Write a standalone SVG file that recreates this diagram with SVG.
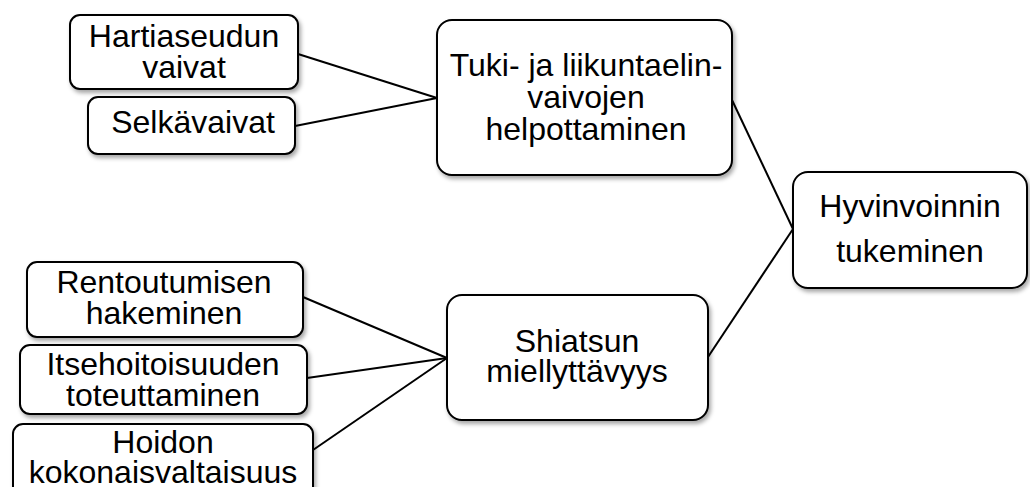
<svg xmlns="http://www.w3.org/2000/svg" width="1030" height="487" viewBox="0 0 1030 487">
<defs>
<filter id="sh" x="-10%" y="-10%" width="130%" height="130%">
<feDropShadow dx="2" dy="3" stdDeviation="2" flood-color="#000" flood-opacity="0.35"/>
</filter>
</defs>
<style>
.box{fill:#fff;stroke:#000;stroke-width:2;filter:url(#sh)}
.t{font-family:"Liberation Sans",Arial,sans-serif;font-size:32px;fill:#000;text-anchor:middle}
.ln{stroke:#000;stroke-width:2;fill:none}
</style>
<rect width="1030" height="487" fill="#fff"/>
<g id="connectors">
<line class="ln" x1="298" y1="54" x2="437" y2="98"/>
<line class="ln" x1="295" y1="126" x2="437" y2="98"/>
<line class="ln" x1="732" y1="100" x2="793" y2="229"/>
<line class="ln" x1="708" y1="357" x2="793" y2="229"/>
<line class="ln" x1="303" y1="297" x2="447" y2="358"/>
<line class="ln" x1="307" y1="378" x2="447" y2="358"/>
<line class="ln" x1="313" y1="450" x2="447" y2="358"/>
</g>
<g id="n-hartia">
<rect class="box" x="70" y="15" width="228" height="74" rx="10"/>
<text class="t" x="184" y="47">Hartiaseudun</text>
<text class="t" x="184" y="78">vaivat</text>
</g>
<g id="n-selka">
<rect class="box" x="88" y="97" width="207" height="57" rx="10"/>
<text class="t" x="193" y="133">Selkävaivat</text>
</g>
<g id="n-tuki">
<rect class="box" x="437" y="20" width="295" height="155" rx="15"/>
<text class="t" x="586" y="76">Tuki- ja liikuntaelin-</text>
<text class="t" x="586" y="108">vaivojen</text>
<text class="t" x="586" y="140">helpottaminen</text>
</g>
<g id="n-hyv">
<rect class="box" x="793" y="172" width="234" height="116" rx="15"/>
<text class="t" x="910" y="217">Hyvinvoinnin</text>
<text class="t" x="910" y="262">tukeminen</text>
</g>
<g id="n-rento">
<rect class="box" x="27" y="262" width="276" height="75" rx="10"/>
<text class="t" x="164" y="293">Rentoutumisen</text>
<text class="t" x="164" y="324">hakeminen</text>
</g>
<g id="n-itse">
<rect class="box" x="20" y="345" width="287" height="69" rx="10"/>
<text class="t" x="163" y="375">Itsehoitoisuuden</text>
<text class="t" x="163" y="406">toteuttaminen</text>
</g>
<g id="n-hoidon">
<rect class="box" x="13" y="424" width="300" height="76" rx="10"/>
<text class="t" x="163" y="453">Hoidon</text>
<text class="t" x="163" y="483">kokonaisvaltaisuus</text>
</g>
<g id="n-shiatsu">
<rect class="box" x="447" y="295" width="261" height="125" rx="15"/>
<text class="t" x="577" y="352">Shiatsun</text>
<text class="t" x="577" y="382">miellyttävyys</text>
</g>
</svg>
